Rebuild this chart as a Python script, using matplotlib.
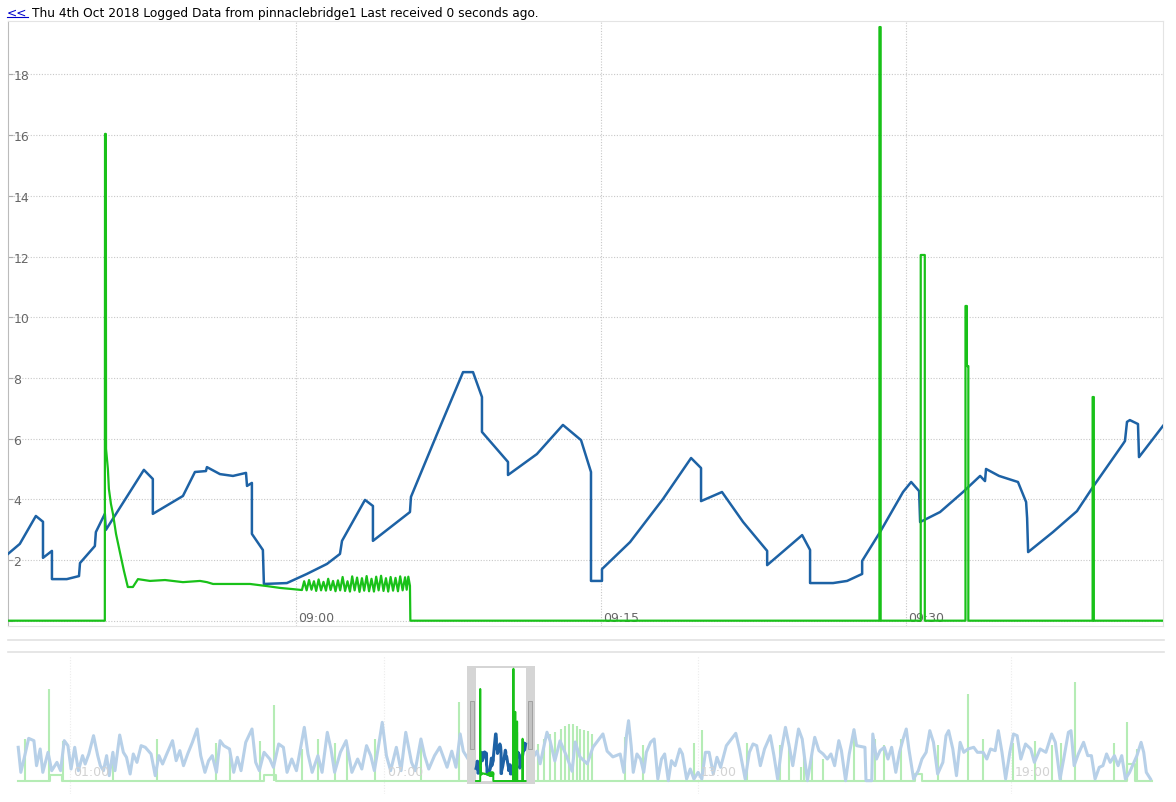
import numpy as np
import matplotlib
matplotlib.use("Agg")
import matplotlib.pyplot as plt
from matplotlib.patches import Rectangle
from matplotlib.lines import Line2D

# main chart: minutes after 09:00 and logged value
blue_data = [(-14.14, 2.20), (-13.56, 2.53), (-12.77, 3.45), (-12.42, 3.26), (-12.42, 2.07),
             (-11.98, 2.30), (-11.98, 1.37), (-11.25, 1.37), (-10.65, 1.47), (-10.60, 1.90),
             (-9.87, 2.46), (-9.82, 2.92), (-9.38, 3.52), (-9.33, 2.99), (-7.46, 4.97),
             (-7.02, 4.67), (-7.02, 3.52), (-5.54, 4.11), (-4.95, 4.90), (-4.41, 4.93),
             (-4.36, 5.06), (-3.72, 4.83), (-3.08, 4.77), (-2.44, 4.87), (-2.39, 4.44),
             (-2.15, 4.54), (-2.15, 2.86), (-1.61, 2.33), (-1.56, 1.21), (-0.43, 1.24),
             (0.55, 1.54), (1.54, 1.87), (2.18, 2.20), (2.28, 2.63), (3.41, 3.98),
             (3.80, 3.78), (3.80, 2.63), (5.62, 3.58), (5.67, 4.08), (6.95, 6.15),
             (8.23, 8.19), (8.72, 8.19), (9.16, 7.37), (9.16, 6.22), (10.44, 5.23),
             (10.44, 4.80), (11.86, 5.49), (13.14, 6.45), (14.03, 5.95), (14.52, 4.90),
             (14.52, 1.31), (15.06, 1.31), (15.06, 1.70), (16.44, 2.59), (18.06, 4.01),
             (19.44, 5.36), (19.93, 5.03), (19.93, 3.94), (20.96, 4.24), (22.00, 3.25),
             (23.18, 2.30), (23.18, 1.83), (24.90, 2.82), (25.29, 2.33), (25.29, 1.24),
             (26.42, 1.24), (27.11, 1.31), (27.85, 1.54), (27.85, 1.97), (28.73, 2.92),
             (29.86, 4.24), (30.26, 4.57), (30.65, 4.27), (30.70, 3.25), (31.68, 3.58),
             (32.81, 4.24), (33.65, 4.77), (33.89, 4.60), (33.94, 5.00), (34.58, 4.77),
             (35.51, 4.57), (35.91, 3.91), (35.96, 3.38), (36.01, 2.26), (37.23, 2.92),
             (38.41, 3.61), (39.20, 4.41), (40.67, 5.82), (40.77, 5.92), (40.87, 6.55),
             (41.01, 6.61), (41.41, 6.48), (41.46, 5.39), (42.64, 6.42)]

green_data = [(-14.14, 0.0), (-9.38, 0.0), (-9.37, 16.04), (-9.33, 16.04), (-9.32, 5.66),
              (-9.23, 5.00), (-9.18, 4.34), (-9.08, 3.85), (-8.98, 3.52), (-8.83, 2.86),
              (-8.64, 2.26), (-8.44, 1.64), (-8.25, 1.11), (-8.00, 1.11), (-7.75, 1.37),
              (-7.16, 1.31), (-6.42, 1.34), (-5.54, 1.27), (-4.70, 1.31), (-4.36, 1.27),
              (-4.06, 1.21), (-3.23, 1.21), (-2.24, 1.21), (-1.41, 1.14), (-0.77, 1.08),
              (-0.13, 1.04), (0.31, 1.01), (0.42, 1.30), (0.54, 1.00), (0.66, 1.34),
              (0.78, 1.02), (0.90, 1.30), (1.01, 0.98), (1.13, 1.36), (1.25, 1.00),
              (1.37, 1.28), (1.49, 0.99), (1.60, 1.38), (1.72, 1.01), (1.84, 1.31),
              (1.96, 0.97), (2.08, 1.33), (2.19, 1.00), (2.31, 1.44), (2.43, 0.98),
              (2.55, 1.30), (2.67, 0.96), (2.78, 1.46), (2.90, 1.00), (3.02, 1.42),
              (3.14, 0.95), (3.26, 1.40), (3.37, 0.99), (3.49, 1.47), (3.61, 0.97),
              (3.73, 1.38), (3.85, 0.96), (3.96, 1.45), (4.08, 1.00), (4.20, 1.48),
              (4.32, 0.98), (4.44, 1.40), (4.55, 0.96), (4.67, 1.44), (4.79, 0.99),
              (4.91, 1.41), (5.03, 0.97), (5.14, 1.46), (5.26, 1.00), (5.38, 1.43),
              (5.46, 1.02), (5.54, 1.45), (5.62, 1.15), (5.64, 0.0),
              (28.70, 0.0), (28.70, 19.56), (28.76, 19.56), (28.76, 0.0),
              (30.73, 0.0), (30.73, 12.05), (30.93, 12.05), (30.93, 0.0),
              (32.93, 0.0), (32.93, 10.37), (33.00, 10.37), (33.00, 8.39), (33.07, 8.39), (33.07, 0.0),
              (39.18, 0.0), (39.18, 7.37), (39.24, 7.37), (39.24, 0.0), (42.64, 0.0)]

x_ticks = [0, 15, 30]
x_labels = ["09:00", "09:15", "09:30"]
y_ticks = [0, 2, 4, 6, 8, 10, 12, 14, 16, 18]
x_range = (-14.14, 42.64)   # 08:45:52 .. 09:42:38
y_range = (-0.175, 19.76)

# navigator: hours of the day
nav_blue = [(0.01, 5.87), (0.06, 1.51), (0.12, 3.83), (0.21, 7.43), (0.31, 7.03), (0.36, 2.67),
            (0.43, 5.58), (0.48, 1.51), (0.58, 5.00), (0.65, 1.80), (0.75, 3.25), (0.82, 1.80),
            (0.89, 7.03), (0.96, 6.16), (1.02, 2.09), (1.09, 5.87), (1.16, 1.80), (1.24, 4.42),
            (1.29, 2.96), (1.36, 4.71), (1.45, 7.90), (1.53, 4.42), (1.58, 2.67), (1.64, 1.80),
            (1.70, 4.42), (1.75, 0.93), (1.82, 5.00), (1.86, 1.80), (1.95, 8.01), (2.02, 5.00),
            (2.08, 4.13), (2.15, 1.22), (2.21, 4.71), (2.28, 3.25), (2.36, 6.16), (2.44, 5.87),
            (2.55, 4.71), (2.63, 0.93), (2.70, 4.42), (2.77, 2.96), (2.85, 4.71), (2.96, 7.03),
            (3.03, 3.54), (3.10, 5.29), (3.17, 2.67), (3.25, 4.71), (3.34, 6.74), (3.43, 9.06),
            (3.50, 4.42), (3.58, 1.51), (3.65, 3.54), (3.72, 4.42), (3.80, 1.51), (3.87, 7.03),
            (3.94, 6.16), (4.05, 5.58), (4.13, 1.51), (4.20, 4.13), (4.27, 1.80), (4.36, 6.74),
            (4.48, 9.06), (4.55, 3.25), (4.62, 1.80), (4.71, 5.00), (4.82, 3.83), (4.89, 2.38),
            (4.99, 6.45), (5.08, 5.87), (5.15, 1.51), (5.24, 3.83), (5.33, 1.80), (5.48, 9.35),
            (5.55, 4.71), (5.63, 1.51), (5.74, 4.42), (5.82, 1.51), (5.92, 8.48), (5.99, 5.58),
            (6.06, 1.51), (6.17, 5.00), (6.28, 7.03), (6.39, 1.51), (6.50, 3.83), (6.58, 2.09),
            (6.67, 6.16), (6.75, 4.42), (6.82, 1.80), (6.89, 5.58), (6.97, 10.22), (7.05, 4.42),
            (7.13, 1.80), (7.24, 5.87), (7.33, 1.80), (7.42, 8.48), (7.53, 3.25), (7.60, 1.80),
            (7.71, 7.32), (7.78, 4.42), (7.86, 2.09), (7.97, 4.42), (8.07, 5.90), (8.21, 2.40),
            (8.30, 5.20), (8.38, 2.40), (8.46, 8.20), (8.52, 5.20), (8.60, 4.00),
            (None, None),
            (9.85, 4.00), (9.93, 5.20), (9.99, 3.00), (10.12, 8.50), (10.18, 7.00), (10.27, 3.50),
            (10.37, 7.00), (10.50, 4.20), (10.60, 1.70), (10.66, 6.80), (10.75, 4.20), (10.89, 3.00),
            (11.00, 5.90), (11.19, 8.20), (11.27, 5.20), (11.38, 4.20), (11.52, 4.70), (11.59, 1.51),
            (11.64, 7.90), (11.68, 10.51), (11.73, 6.16), (11.77, 1.51), (11.84, 4.71), (11.91, 3.83),
            (11.97, 1.51), (12.02, 5.00), (12.10, 6.74), (12.17, 7.32), (12.24, 0.35), (12.31, 3.83),
            (12.37, 4.71), (12.44, 0.06), (12.50, 3.54), (12.57, 2.67), (12.66, 5.58), (12.71, 4.71),
            (12.79, 0.35), (12.86, 2.09), (12.93, 0.35), (13.01, 1.51), (13.08, 0.35), (13.15, 5.00),
            (13.22, 5.00), (13.30, 1.22), (13.37, 4.13), (13.44, 2.38), (13.55, 6.16), (13.73, 8.31),
            (13.80, 5.58), (13.91, 0.35), (13.99, 5.00), (14.06, 6.45), (14.13, 6.16), (14.20, 2.67),
            (14.28, 5.58), (14.39, 7.90), (14.46, 4.42), (14.53, 0.35), (14.60, 5.29), (14.68, 9.35),
            (14.75, 6.16), (14.82, 2.67), (14.93, 9.06), (15.00, 7.32), (15.10, 0.06), (15.19, 5.00),
            (15.24, 7.61), (15.32, 5.29), (15.40, 4.71), (15.48, 3.83), (15.55, 4.71), (15.62, 2.67),
            (15.70, 7.03), (15.75, 5.29), (15.83, 0.06), (15.90, 4.71), (15.99, 8.95), (16.04, 6.16),
            (16.20, 5.87), (16.22, 0.06), (16.33, 0.06), (16.35, 8.19), (16.42, 3.83), (16.49, 5.29),
            (16.57, 5.87), (16.64, 3.83), (16.71, 5.87), (16.79, 1.51), (16.86, 5.00), (16.93, 7.32),
            (16.99, 9.06), (17.04, 5.58), (17.13, 0.35), (17.22, 1.80), (17.29, 3.83), (17.37, 5.00),
            (17.44, 8.77), (17.51, 6.74), (17.59, 1.22), (17.69, 3.25), (17.75, 7.90), (17.80, 8.77),
            (17.88, 5.58), (17.95, 0.93), (18.02, 6.74), (18.09, 5.00), (18.17, 5.58), (18.28, 5.87),
            (18.35, 5.00), (18.46, 5.00), (18.53, 3.83), (18.60, 5.58), (18.69, 5.29), (18.75, 8.77),
            (18.82, 5.00), (18.89, 0.35), (18.97, 5.00), (19.04, 8.19), (19.11, 7.90), (19.18, 3.83),
            (19.27, 6.45), (19.37, 5.58), (19.44, 3.25), (19.55, 5.58), (19.66, 5.00), (19.77, 8.19),
            (19.84, 6.74), (19.93, 0.35), (20.00, 3.83), (20.09, 8.48), (20.14, 8.77), (20.20, 2.67),
            (20.28, 4.71), (20.38, 6.74), (20.46, 4.42), (20.53, 4.42), (20.60, 0.35), (20.68, 2.38),
            (20.75, 2.67), (20.82, 4.71), (20.89, 3.25), (20.97, 4.42), (21.04, 2.67), (21.11, 4.42),
            (21.18, 0.35), (21.26, 1.51), (21.33, 2.96), (21.40, 4.42), (21.48, 6.74), (21.53, 5.00),
            (21.58, 1.51), (21.66, 0.35)]

nav_spike_hours = [0.14, 0.60, 0.87, 1.82, 2.66, 3.80, 4.06, 4.64, 4.90, 5.44, 5.74, 6.07, 6.30,
                   6.83, 7.71, 8.43, 9.95, 10.06, 10.18, 10.27, 10.38, 10.46, 10.55, 10.61, 10.69,
                   10.75, 10.83, 10.91, 10.99, 11.61, 11.95, 12.93, 13.08, 13.95, 14.57, 14.75,
                   14.97, 15.04, 15.19, 15.40, 15.99, 16.39, 16.57, 16.89, 17.59, 18.17, 18.46,
                   19.04, 19.46, 19.77, 19.95, 20.22, 20.97, 21.21, 21.40]
nav_spike_vals = [7.3, 16.1, 7.0, 5.0, 7.3, 6.7, 5.0, 7.0, 13.2, 5.6, 7.3, 6.7, 5.6,
                  7.3, 7.3, 13.8, 6.4, 7.3, 8.2, 8.5, 9.1, 9.6, 9.9, 10.0, 9.6,
                  9.1, 8.9, 8.7, 8.2, 7.6, 6.2, 6.7, 8.8, 6.7, 6.2, 6.7,
                  2.4, 5.6, 4.7, 3.8, 9.1, 7.3, 6.2, 7.3, 6.2, 15.2, 7.3,
                  6.7, 7.0, 6.2, 6.7, 17.3, 6.7, 10.2, 5.6]
nav_plateaus = [(0.62, 0.85, 1.0), (4.71, 4.93, 1.1), (17.15, 17.29, 1.3), (21.22, 21.36, 3.0)]
nav_first, nav_last = 0.0, 21.69
nav_ticks = [1, 7, 13, 19]
nav_labels = ["01:00", "07:00", "13:00", "19:00"]
nav_range = (-0.1855, 21.918)
nav_yrange = (-2.265, 21.78)

BLUE = "#1d62a5"
GREEN = "#19c119"
LBLUE = "#b7d0e8"
LGREEN = "#b5ecb5"
GRID = "#c8c8c8"

W, H = 1176, 803
fig = plt.figure(figsize=(W / 100, H / 100), dpi=100)


def box(x0, y0, x1, y1):
    return [x0 / W, 1 - y1 / H, (x1 - x0) / W, (y1 - y0) / H]


ax = fig.add_axes(box(8, 22, 1163, 627))
nav = fig.add_axes(box(8, 657, 1164, 795))

# ---- main chart
bx, by = zip(*blue_data)
gx, gy = zip(*green_data)
ax.plot(bx, by, color=BLUE, lw=1.8, zorder=3)
ax.plot(gx, gy, color=GREEN, lw=1.6, zorder=4)
ax.set_xlim(*x_range)
ax.set_ylim(*y_range)

ax.set_yticks(y_ticks)
ax.set_yticklabels([""] + [str(v) for v in y_ticks[1:]])
ax.set_xticks(x_ticks)
ax.set_xticklabels([])
ax.grid(True, color=GRID, lw=0.8, linestyle=(0, (1, 1.5)))
ax.tick_params(axis="x", length=0)
ax.tick_params(axis="y", direction="in", length=3.6, width=0.8, color="#aaaaaa",
               pad=-4, labelsize=9, labelcolor="#666666")
plt.setp(ax.get_yticklabels(), ha="left")
for t, lab in zip(x_ticks, x_labels):
    ax.annotate(lab, xy=(t, 0), xycoords=("data", "axes fraction"), xytext=(2, 2),
                textcoords="offset pixels", ha="left", va="bottom", fontsize=9, color="#666666")
for s in ["top", "right", "bottom"]:
    ax.spines[s].set_color("#e4e4e4")
ax.spines["left"].set_color("#bbbbbb")

# ---- navigator
nav.set_xlim(*nav_range)
nav.set_ylim(*nav_yrange)
nav.set_xticks(nav_ticks)
nav.set_yticks([])
nav.tick_params(length=0, labelbottom=False)
nav.grid(True, axis="x", color="#ececec", lw=0.8, linestyle=(0, (1, 1.5)))
for s in nav.spines.values():
    s.set_visible(False)
for t, lab in zip(nav_ticks, nav_labels):
    nav.annotate(lab, xy=(t, 0), xycoords=("data", "axes fraction"), xytext=(3, 16),
                 textcoords="offset pixels", ha="left", va="bottom", fontsize=9, color="#d2d2d2")

# light green baseline with plateaus, then the spikes
base_x, base_y = [nav_first], [0.0]
for s, e, lvl in nav_plateaus:
    base_x += [s, s, e, e]
    base_y += [0.0, lvl, lvl, 0.0]
base_x.append(nav_last)
base_y.append(0.0)
nav.plot(base_x, base_y, color=LGREEN, lw=1.5, zorder=2)
nav.vlines(nav_spike_hours, 0, nav_spike_vals, color=LGREEN, lw=1.5, zorder=2)

nbx = [np.nan if h is None else h for h, v in nav_blue]
nby = [np.nan if v is None else v for h, v in nav_blue]
nav.plot(nbx, nby, color=LBLUE, lw=2.2, zorder=2.5)

# selected window = main chart range
w0 = 9 + x_range[0] / 60
w1 = 9 + x_range[1] / 60
edge = 0.172
nav.add_patch(Rectangle((w0 - edge, -0.52), (w1 - w0) + 2 * edge, 20.55,
                        fc="#d5d5d5", ec="none", zorder=3))
nav.add_patch(Rectangle((w0, -0.05), w1 - w0, 19.74, fc="white", ec="none", zorder=3.5))
for hx in (w0 - 0.115, w1 + 0.04):
    nav.add_patch(Rectangle((hx, 5.6), 0.075, 8.3, fc="#c2c2c2", ec="#9a9a9a",
                            lw=0.6, zorder=3.6))
nav.plot([9 + m / 60 for m in bx], by, color=BLUE, lw=2.2, zorder=4)
nav.plot([9 + m / 60 for m in gx], gy, color=GREEN, lw=1.4, zorder=4.5)

# separator lines between chart and navigator
for yy in (641, 653):
    fig.add_artist(Line2D([8 / W, 1164 / W], [1 - yy / H, 1 - yy / H],
                          color="#e2e2e2", lw=1.2))

# header line
link = fig.text(7 / W, 1 - 13 / H, "<<", color="#0000cc", fontsize=8.8, va="center")
fig.canvas.draw()
bb = link.get_window_extent()
fig.add_artist(Line2D([bb.x0 / W, bb.x1 / W], [(bb.y0 + 2) / H, (bb.y0 + 2) / H],
                      color="#0000cc", lw=0.8))
fig.text((bb.x1 + 4) / W, 1 - 13 / H,
         "Thu 4th Oct 2018 Logged Data from pinnaclebridge1 Last received 0 seconds ago.",
         color="black", fontsize=8.8, va="center")

fig.savefig("out.png", dpi=100)
